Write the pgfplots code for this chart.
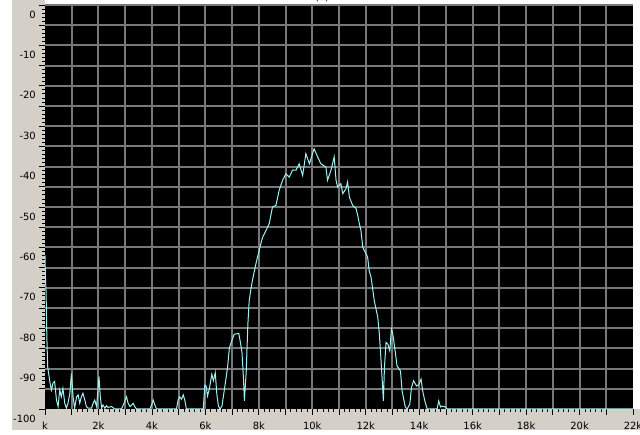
\documentclass[border=0pt]{standalone}
\usepackage{fontspec}
\setmainfont{DejaVu Sans}
\usepackage{pgfplots}
\pgfplotsset{compat=1.18}

\definecolor{winbg}{RGB}{212,208,200}
\definecolor{gridgray}{RGB}{120,120,120}
\definecolor{trace}{RGB}{160,242,242}

\begin{document}
\begin{tikzpicture}[x=1bp,y=1bp]
  \useasboundingbox (0,0) rectangle (640,435);
  \fill[white] (0,0) rectangle (640,435);
  % window frame around the scope display
  \fill[winbg] (11.5,5) rectangle (640,26);
  \fill[winbg] (11.5,5) rectangle (45,435);
  \begin{axis}[
    at={(45bp,26bp)}, anchor=south west,
    scale only axis, width=588bp, height=404bp,
    xmin=0, xmax=22, ymin=-100, ymax=0,
    axis line style={draw=none},
    axis background/.style={fill=black},
    clip=false,
    tick align=outside,
    tick pos=left,
    xtick={1,2,...,21},
    xticklabels={,2k,,4k,,6k,,8k,,10k,,12k,,14k,,16k,,18k,,20k,},
    extra x ticks={0,22},
    extra x tick labels={k,22k},
    ytick={-95,-90,...,0},
    yticklabels={,-90,,-80,,-70,,-60,,-50,,-40,,-30,,-20,,-10,,0},
    extra y ticks={-100},
    extra y tick labels={-100},
    extra tick style={grid=none},
    minor x tick num=4,
    minor y tick num=4,
    major tick length=6bp,
    minor tick length=3bp,
    tick style={black, line width=0.8bp},
    grid=major,
    major grid style={draw=gridgray, line width=2bp},
    tick label style={font=\fontsize{10}{12}\selectfont, text=black},
    yticklabel style={anchor=east, inner sep=0pt, xshift=-3bp, yshift=-9.5bp},
    xticklabel style={anchor=north, inner sep=0pt, yshift=-7bp},
  ]
    \addplot[trace, line width=1bp, mark=none] table {
      0.00 -62
      0.02 -68
      0.04 -71
      0.07 -82.4
      0.10 -89.5
      0.18 -93.2
      0.24 -95.3
      0.30 -93.6
      0.36 -93.2
      0.43 -97.8
      0.49 -99.4
      0.55 -95.3
      0.61 -97
      0.67 -94.9
      0.74 -98.6
      0.80 -99.8
      0.86 -98.6
      0.93 -96.1
      0.99 -91.2
      1.05 -97
      1.11 -99.8
      1.18 -97
      1.24 -96.5
      1.30 -98.6
      1.36 -97
      1.42 -96.1
      1.49 -97.8
      1.55 -99.4
      1.61 -99.8
      1.74 -99.8
      1.80 -98.6
      1.86 -97.8
      1.93 -99.4
      1.99 -94.5
      2.02 -92
      2.07 -97
      2.12 -99.8
      2.17 -99
      2.24 -99.8
      2.30 -99.2
      2.36 -99.6
      2.49 -99.4
      2.61 -100
      2.86 -100
      2.93 -99
      3.05 -97
      3.11 -98.6
      3.18 -99.4
      3.24 -99
      3.30 -98.6
      3.36 -99.4
      3.42 -100
      3.92 -100
      3.99 -99
      4.05 -97.8
      4.11 -99
      4.17 -100
      4.92 -100
      4.98 -97.8
      5.04 -97
      5.11 -97.6
      5.17 -96.5
      5.23 -97.8
      5.29 -100
      5.92 -100
      5.98 -94.1
      6.03 -94.3
      6.08 -96.8
      6.15 -95
      6.24 -91.4
      6.30 -93
      6.37 -91
      6.43 -96.4
      6.49 -99.3
      6.55 -100
      6.62 -99.3
      6.74 -93.9
      6.83 -89.7
      6.90 -84.8
      6.99 -83.1
      7.08 -81.5
      7.25 -81.3
      7.30 -83.1
      7.37 -86
      7.43 -93
      7.46 -98
      7.53 -90.6
      7.59 -79
      7.64 -73.2
      7.70 -70.5
      7.76 -68.2
      7.89 -64.1
      8.01 -60.8
      8.14 -57.5
      8.27 -55.8
      8.39 -54.1
      8.51 -50.0
      8.64 -49.6
      8.76 -45.9
      8.89 -43.4
      9.01 -41.8
      9.14 -42.6
      9.26 -40.9
      9.39 -40.9
      9.51 -39.3
      9.64 -42.2
      9.76 -36.8
      9.89 -39.3
      10.07 -35.6
      10.20 -37.6
      10.32 -39.3
      10.51 -40.1
      10.57 -43.4
      10.70 -40.9
      10.82 -37.6
      10.89 -43.4
      10.95 -45.1
      11.07 -44.2
      11.14 -46.7
      11.26 -45.5
      11.32 -43.8
      11.39 -47.6
      11.51 -49.6
      11.64 -50.4
      11.70 -52.1
      11.76 -54.1
      11.82 -55.8
      11.89 -60.0
      12.01 -61.6
      12.07 -62.4
      12.13 -65.8
      12.20 -67.4
      12.32 -73.2
      12.45 -77.3
      12.51 -81.5
      12.57 -87.7
      12.64 -95.5
      12.66 -98
      12.70 -89.7
      12.76 -83.5
      12.83 -84
      12.90 -85.6
      12.96 -80.2
      13.00 -81
      13.04 -82.7
      13.10 -85.6
      13.17 -89.3
      13.30 -90.6
      13.36 -95.5
      13.48 -99.5
      13.55 -100
      13.65 -98.8
      13.71 -94.7
      13.79 -93
      13.90 -94.3
      13.98 -94
      14.07 -92.6
      14.13 -95.5
      14.21 -98
      14.30 -100
      14.67 -100
      14.73 -98
      14.80 -99.5
      14.86 -99.3
      14.98 -99.5
      15.04 -100
      22.00 -100
    };
    \node[font=\fontsize{10}{12}\selectfont, anchor=base, yshift=4.5bp]
      at (rel axis cs:0.471,1) {(a)};
  \end{axis}
\end{tikzpicture}
\end{document}
